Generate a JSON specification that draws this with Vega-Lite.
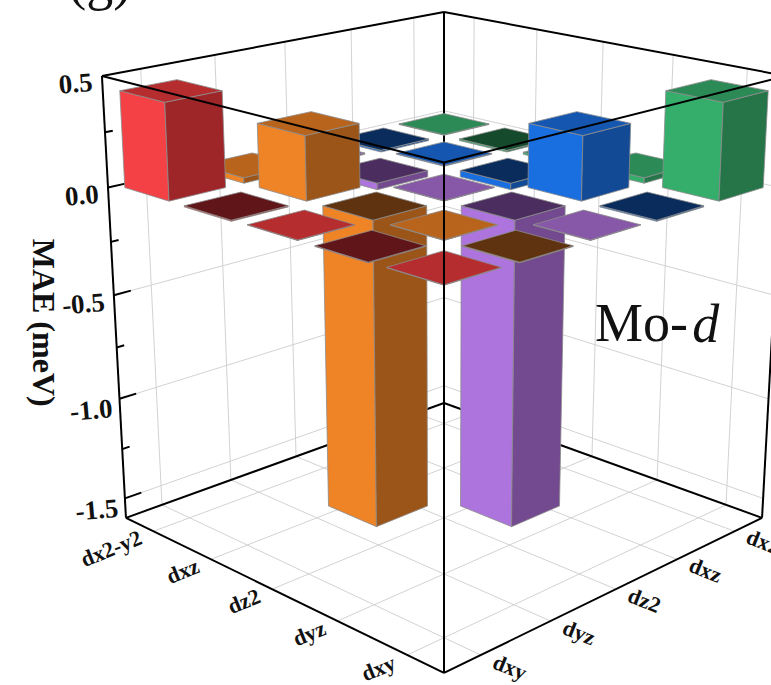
{"$schema":"https://vega.github.io/schema/vega-lite/v6.json","autosize":{"type":"none"},"padding":0,"width":771,"height":685,"background":"white","config":{"view":{"stroke":null}},
"datasets":{
"bars":[
{"left":"dx2-y2","right":"dx2-y2","mae":0.003},
{"left":"dxz","right":"dx2-y2","mae":-0.008},
{"left":"dx2-y2","right":"dxz","mae":-0.008},
{"left":"dxz","right":"dxz","mae":0.004},
{"left":"dz2","right":"dx2-y2","mae":0.01},
{"left":"dx2-y2","right":"dz2","mae":0.006},
{"left":"dyz","right":"dx2-y2","mae":0.025},
{"left":"dz2","right":"dxz","mae":-0.03},
{"left":"dxz","right":"dz2","mae":-0.03},
{"left":"dx2-y2","right":"dyz","mae":0.025},
{"left":"dx2-y2","right":"dxy","mae":0.435},
{"left":"dxz","right":"dyz","mae":0.29},
{"left":"dz2","right":"dz2","mae":0.002},
{"left":"dyz","right":"dxz","mae":0.29},
{"left":"dxy","right":"dx2-y2","mae":0.435},
{"left":"dxz","right":"dxy","mae":-0.005},
{"left":"dz2","right":"dyz","mae":-1.405},
{"left":"dyz","right":"dz2","mae":-1.405},
{"left":"dxy","right":"dxz","mae":-0.005},
{"left":"dz2","right":"dxy","mae":0.002},
{"left":"dyz","right":"dyz","mae":0.002},
{"left":"dxy","right":"dz2","mae":0.002},
{"left":"dyz","right":"dxy","mae":-0.003},
{"left":"dxy","right":"dyz","mae":-0.003},
{"left":"dxy","right":"dxy","mae":0.002}],
"lines":[
{"line":"f1","kind":"grid","u0":0.1,"v0":0,"val0":-1.6,"u1":0.1,"v1":1,"val1":-1.6},
{"line":"f2","kind":"grid","u0":0.3,"v0":0,"val0":-1.6,"u1":0.3,"v1":1,"val1":-1.6},
{"line":"f3","kind":"grid","u0":0.5,"v0":0,"val0":-1.6,"u1":0.5,"v1":1,"val1":-1.6},
{"line":"f4","kind":"grid","u0":0.7,"v0":0,"val0":-1.6,"u1":0.7,"v1":1,"val1":-1.6},
{"line":"f5","kind":"grid","u0":0.9,"v0":0,"val0":-1.6,"u1":0.9,"v1":1,"val1":-1.6},
{"line":"f6","kind":"grid","u0":0,"v0":0.1,"val0":-1.6,"u1":1,"v1":0.1,"val1":-1.6},
{"line":"f7","kind":"grid","u0":0,"v0":0.3,"val0":-1.6,"u1":1,"v1":0.3,"val1":-1.6},
{"line":"f8","kind":"grid","u0":0,"v0":0.5,"val0":-1.6,"u1":1,"v1":0.5,"val1":-1.6},
{"line":"f9","kind":"grid","u0":0,"v0":0.7,"val0":-1.6,"u1":1,"v1":0.7,"val1":-1.6},
{"line":"f10","kind":"grid","u0":0,"v0":0.9,"val0":-1.6,"u1":1,"v1":0.9,"val1":-1.6},
{"line":"l1","kind":"grid","u0":0.1,"v0":0,"val0":-1.6,"u1":0.1,"v1":0,"val1":0.5},
{"line":"l2","kind":"grid","u0":0.3,"v0":0,"val0":-1.6,"u1":0.3,"v1":0,"val1":0.5},
{"line":"l3","kind":"grid","u0":0.5,"v0":0,"val0":-1.6,"u1":0.5,"v1":0,"val1":0.5},
{"line":"l4","kind":"grid","u0":0.7,"v0":0,"val0":-1.6,"u1":0.7,"v1":0,"val1":0.5},
{"line":"l5","kind":"grid","u0":0.9,"v0":0,"val0":-1.6,"u1":0.9,"v1":0,"val1":0.5},
{"line":"r1","kind":"grid","u0":0,"v0":0.1,"val0":-1.6,"u1":0,"v1":0.1,"val1":0.5},
{"line":"r2","kind":"grid","u0":0,"v0":0.3,"val0":-1.6,"u1":0,"v1":0.3,"val1":0.5},
{"line":"r3","kind":"grid","u0":0,"v0":0.5,"val0":-1.6,"u1":0,"v1":0.5,"val1":0.5},
{"line":"r4","kind":"grid","u0":0,"v0":0.7,"val0":-1.6,"u1":0,"v1":0.7,"val1":0.5},
{"line":"r5","kind":"grid","u0":0,"v0":0.9,"val0":-1.6,"u1":0,"v1":0.9,"val1":0.5},
{"line":"h1","kind":"grid","u0":1,"v0":0,"val0":-1.5,"u1":0,"v1":0,"val1":-1.5},
{"line":"h2","kind":"grid","u0":1,"v0":0,"val0":-1,"u1":0,"v1":0,"val1":-1},
{"line":"h3","kind":"grid","u0":1,"v0":0,"val0":-0.5,"u1":0,"v1":0,"val1":-0.5},
{"line":"h4","kind":"grid","u0":1,"v0":0,"val0":0,"u1":0,"v1":0,"val1":0},
{"line":"h5","kind":"grid","u0":0,"v0":1,"val0":-1.5,"u1":0,"v1":0,"val1":-1.5},
{"line":"h6","kind":"grid","u0":0,"v0":1,"val0":-1,"u1":0,"v1":0,"val1":-1},
{"line":"h7","kind":"grid","u0":0,"v0":1,"val0":-0.5,"u1":0,"v1":0,"val1":-0.5},
{"line":"h8","kind":"grid","u0":0,"v0":1,"val0":0,"u1":0,"v1":0,"val1":0},
{"line":"b1","kind":"back","u0":0,"v0":0,"val0":-1.6,"u1":1,"v1":0,"val1":-1.6},
{"line":"b2","kind":"back","u0":0,"v0":0,"val0":-1.6,"u1":0,"v1":1,"val1":-1.6},
{"line":"b3","kind":"back","u0":0,"v0":0,"val0":-1.6,"u1":0,"v1":0,"val1":0.5},
{"line":"b4","kind":"back","u0":0,"v0":0,"val0":0.5,"u1":1,"v1":0,"val1":0.5},
{"line":"b5","kind":"back","u0":0,"v0":0,"val0":0.5,"u1":0,"v1":1,"val1":0.5},
{"line":"b6","kind":"back","u0":1,"v0":0,"val0":-1.6,"u1":1,"v1":0,"val1":0.5},
{"line":"b7","kind":"back","u0":0,"v0":1,"val0":-1.6,"u1":0,"v1":1,"val1":0.5},
{"line":"t1","kind":"back","u0":1,"v0":0,"val0":0,"u1":0.955,"v1":0,"val1":0},
{"line":"t2","kind":"back","u0":1,"v0":0,"val0":-0.5,"u1":0.955,"v1":0,"val1":-0.5},
{"line":"t3","kind":"back","u0":1,"v0":0,"val0":-1,"u1":0.955,"v1":0,"val1":-1},
{"line":"t4","kind":"back","u0":1,"v0":0,"val0":-1.5,"u1":0.955,"v1":0,"val1":-1.5},
{"line":"t5","kind":"back","u0":1,"v0":0,"val0":0.25,"u1":0.98,"v1":0,"val1":0.25},
{"line":"t6","kind":"back","u0":1,"v0":0,"val0":-0.25,"u1":0.98,"v1":0,"val1":-0.25},
{"line":"t7","kind":"back","u0":1,"v0":0,"val0":-0.75,"u1":0.98,"v1":0,"val1":-0.75},
{"line":"t8","kind":"back","u0":1,"v0":0,"val0":-1.25,"u1":0.98,"v1":0,"val1":-1.25},
{"line":"o1","kind":"front","u0":1,"v0":1,"val0":-1.6,"u1":1,"v1":1,"val1":0.5},
{"line":"o2","kind":"front","u0":1,"v0":1,"val0":0.5,"u1":1,"v1":0,"val1":0.5},
{"line":"o3","kind":"front","u0":1,"v0":1,"val0":0.5,"u1":0,"v1":1,"val1":0.5},
{"line":"o4","kind":"front","u0":1,"v0":1,"val0":-1.6,"u1":1,"v1":0,"val1":-1.6},
{"line":"o5","kind":"front","u0":1,"v0":1,"val0":-1.6,"u1":0,"v1":1,"val1":-1.6}],
"labels":[
{"group":"z","text":"0.5","u":1.025,"v":0,"val":0.5},
{"group":"z","text":"0.0","u":1.025,"v":0,"val":0},
{"group":"z","text":"-0.5","u":1.025,"v":0,"val":-0.5},
{"group":"z","text":"-1.0","u":1.02,"v":0,"val":-1.015},
{"group":"z","text":"-1.5","u":1.02,"v":0,"val":-1.515},
{"group":"left","text":"dx2-y2","u":1.035,"v":0.1,"val":-1.6},
{"group":"left","text":"dxz","u":1.035,"v":0.3,"val":-1.6},
{"group":"left","text":"dz2","u":1.035,"v":0.5,"val":-1.6},
{"group":"left","text":"dyz","u":1.035,"v":0.7,"val":-1.6},
{"group":"left","text":"dxy","u":1.035,"v":0.9,"val":-1.6},
{"group":"right","text":"dx2-y2","u":0.1,"v":1.035,"val":-1.6},
{"group":"right","text":"dxz","u":0.3,"v":1.035,"val":-1.6},
{"group":"right","text":"dz2","u":0.5,"v":1.035,"val":-1.6},
{"group":"right","text":"dyz","u":0.7,"v":1.035,"val":-1.6},
{"group":"right","text":"dxy","u":0.9,"v":1.035,"val":-1.6},
{"group":"title","text":"MAE (meV)","u":1.15,"v":-0.05,"val":-0.58},
{"group":"note","text":"Mo-","u":0,"v":0.5,"val":-0.98},
{"group":"noteItalic","text":"d","u":0,"v":0.785,"val":-0.835},
{"group":"note","text":"(g)","u":1.113,"v":0.057,"val":0.88}]
},
"layer":[
{"data":{"name":"lines"},
"transform":[
{"calculate":"[0,1]","as":"end"},{"flatten":["end"]},
{"calculate":"datum.end==0?datum.u0:datum.u1","as":"u"},
{"calculate":"datum.end==0?datum.v0:datum.v1","as":"v"},
{"calculate":"datum.end==0?datum.val0:datum.val1","as":"val"},
{"calculate":"1-0.13*(datum.u+datum.v)","as":"w"},
{"calculate":"(datum.val+1.6)/2.1","as":"t"},
{"calculate":"datum.t-0.08*datum.t*(1-datum.t)","as":"zz"},
{"calculate":"444+(datum.v-datum.u)*276.7*(1+0.0755*datum.zz)/datum.w","as":"px"},
{"calculate":"((403+47.5*(datum.u+datum.v))*(1-datum.zz)+(12+54.1*(datum.u+datum.v))*datum.zz)/datum.w","as":"py"}],
"encoding":{
"x":{"field":"px","type":"quantitative","axis":null,"scale":{"domain":[0,771],"range":[0,771],"nice":false,"zero":false}},
"y":{"field":"py","type":"quantitative","axis":null,"scale":{"domain":[685,0],"range":[685,0],"nice":false,"zero":false}},
"detail":{"field":"line"},"order":{"field":"end"}},
"layer":[
{"transform":[{"filter":"datum.kind=='grid'"}],"mark":{"type":"line","stroke":"#d2d2d2","strokeWidth":1}},
{"transform":[{"filter":"datum.kind=='back'"}],"mark":{"type":"line","stroke":"#000","strokeWidth":2}}]},
{"data":{"name":"bars"},
"transform":[
{"calculate":"['L','R','T']","as":"face"},{"flatten":["face"]},
{"calculate":"[0,1,2,3]","as":"corner"},{"flatten":["corner"]},
{"calculate":"(indexof(['dx2-y2','dxz','dz2','dyz','dxy'],datum.right)+0.5)/5","as":"cu"},
{"calculate":"(indexof(['dx2-y2','dxz','dz2','dyz','dxy'],datum.left)+0.5)/5","as":"cv"},
{"calculate":"datum.face=='L'?1:datum.face=='R'?[1,-1,-1,1][datum.corner]:[1,1,-1,-1][datum.corner]","as":"su"},
{"calculate":"datum.face=='R'?1:[-1,1,1,-1][datum.corner]","as":"sv"},
{"calculate":"datum.cu+0.075*datum.su","as":"u"},
{"calculate":"datum.cv+0.075*datum.sv","as":"v"},
{"calculate":"datum.face=='T'||datum.corner<2?max(datum.mae,0):min(datum.mae,0)","as":"val"},
{"calculate":"datum.left+'/'+datum.right+'/'+datum.face","as":"key"},
{"calculate":"datum.right+'|'+datum.face+(datum.face=='T'?(datum.mae<0?'-':'+'):'')","as":"part"},
{"calculate":"1-0.13*(datum.u+datum.v)","as":"w"},
{"calculate":"(datum.val+1.6)/2.1","as":"t"},
{"calculate":"datum.t-0.08*datum.t*(1-datum.t)","as":"zz"},
{"calculate":"444+(datum.v-datum.u)*276.7*(1+0.0755*datum.zz)/datum.w","as":"px"},
{"calculate":"((403+47.5*(datum.u+datum.v))*(1-datum.zz)+(12+54.1*(datum.u+datum.v))*datum.zz)/datum.w","as":"py"}],
"mark":{"type":"line","filled":true,"interpolate":"linear-closed","stroke":"#8c8c8c","strokeWidth":0.8},
"encoding":{
"x":{"field":"px","type":"quantitative","axis":null,"scale":{"domain":[0,771],"range":[0,771],"nice":false,"zero":false}},
"y":{"field":"py","type":"quantitative","axis":null,"scale":{"domain":[685,0],"range":[685,0],"nice":false,"zero":false}},
"detail":{"field":"key"},"order":{"field":"corner"},
"color":{"field":"part","type":"nominal","legend":null,"scale":{
"domain":["dxy|L","dxy|R","dxy|T+","dxy|T-","dyz|L","dyz|R","dyz|T+","dyz|T-","dz2|L","dz2|R","dz2|T+","dz2|T-","dxz|L","dxz|R","dxz|T+","dxz|T-","dx2-y2|L","dx2-y2|R","dx2-y2|T+","dx2-y2|T-"],
"range":["#f44146","#9e2528","#b52d2e","#601618","#ef8427","#9c5519","#b9641c","#5f330f","#ad74dd","#73498f","#8858a8","#4b2e5f","#1a6fe0","#124a96","#1557b0","#0a2c5c","#35ae6b","#257548","#2c8a56","#164a2d"]}}}},
{"data":{"name":"lines"},
"transform":[
{"filter":"datum.kind=='front'"},
{"calculate":"[0,1]","as":"end"},{"flatten":["end"]},
{"calculate":"datum.end==0?datum.u0:datum.u1","as":"u"},
{"calculate":"datum.end==0?datum.v0:datum.v1","as":"v"},
{"calculate":"datum.end==0?datum.val0:datum.val1","as":"val"},
{"calculate":"1-0.13*(datum.u+datum.v)","as":"w"},
{"calculate":"(datum.val+1.6)/2.1","as":"t"},
{"calculate":"datum.t-0.08*datum.t*(1-datum.t)","as":"zz"},
{"calculate":"444+(datum.v-datum.u)*276.7*(1+0.0755*datum.zz)/datum.w","as":"px"},
{"calculate":"((403+47.5*(datum.u+datum.v))*(1-datum.zz)+(12+54.1*(datum.u+datum.v))*datum.zz)/datum.w","as":"py"}],
"mark":{"type":"line","stroke":"#000","strokeWidth":2},
"encoding":{
"x":{"field":"px","type":"quantitative","axis":null,"scale":{"domain":[0,771],"range":[0,771],"nice":false,"zero":false}},
"y":{"field":"py","type":"quantitative","axis":null,"scale":{"domain":[685,0],"range":[685,0],"nice":false,"zero":false}},
"detail":{"field":"line"},"order":{"field":"end"}}},
{"data":{"name":"labels"},
"transform":[
{"calculate":"1-0.13*(datum.u+datum.v)","as":"w"},
{"calculate":"(datum.val+1.6)/2.1","as":"t"},
{"calculate":"datum.t-0.08*datum.t*(1-datum.t)","as":"zz"},
{"calculate":"444+(datum.v-datum.u)*276.7*(1+0.0755*datum.zz)/datum.w","as":"px"},
{"calculate":"((403+47.5*(datum.u+datum.v))*(1-datum.zz)+(12+54.1*(datum.u+datum.v))*datum.zz)/datum.w","as":"py"}],
"encoding":{
"x":{"field":"px","type":"quantitative","axis":null,"scale":{"domain":[0,771],"range":[0,771],"nice":false,"zero":false}},
"y":{"field":"py","type":"quantitative","axis":null,"scale":{"domain":[685,0],"range":[685,0],"nice":false,"zero":false}},
"text":{"field":"text"}},
"layer":[
{"transform":[{"filter":"datum.group=='z'"}],"mark":{"type":"text","font":"Liberation Serif","fontWeight":"bold","fontSize":27,"align":"right","baseline":"middle","angle":355,"dy":5,"color":"#111"}},
{"transform":[{"filter":"datum.group=='left'"}],"mark":{"type":"text","font":"Liberation Serif","fontWeight":"bold","fontSize":22,"align":"right","baseline":"middle","angle":338,"dy":1,"color":"#111"}},
{"transform":[{"filter":"datum.group=='right'"}],"mark":{"type":"text","font":"Liberation Serif","fontWeight":"bold","fontSize":22,"align":"left","baseline":"middle","angle":22,"dy":0,"color":"#111"}},
{"transform":[{"filter":"datum.group=='title'"}],"mark":{"type":"text","font":"Liberation Serif","fontWeight":"bold","fontSize":32,"align":"center","baseline":"middle","angle":90,"color":"#111"}},
{"transform":[{"filter":"datum.group=='note'"}],"mark":{"type":"text","font":"Liberation Serif","fontSize":54,"align":"left","baseline":"alphabetic","color":"#111"}},
{"transform":[{"filter":"datum.group=='noteItalic'"}],"mark":{"type":"text","font":"Liberation Serif","fontStyle":"italic","fontSize":54,"align":"left","baseline":"alphabetic","color":"#111"}}]}
]}
